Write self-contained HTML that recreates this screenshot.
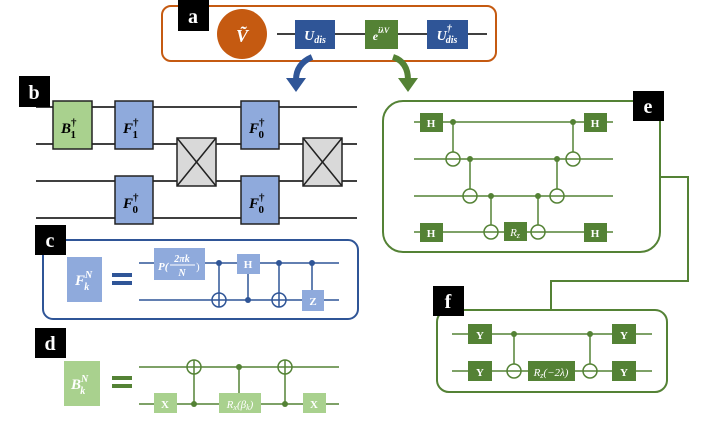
<!DOCTYPE html><html><head><style>body{margin:0;background:#fff}svg{display:block}</style></head><body>
<svg width="706" height="424" xmlns="http://www.w3.org/2000/svg" font-family="Liberation Serif, serif">
<!-- a -->
<rect x="162" y="6" width="334" height="55" rx="9" fill="none" stroke="#c55a11" stroke-width="2"/>
<rect x="178" y="0" width="31" height="31" fill="#000"/><text x="193" y="23" fill="#fff" font-size="20" font-weight="bold" text-anchor="middle">a</text>
<circle cx="242" cy="34" r="25" fill="#c55a11"/><text x="242" y="42" fill="#fff" font-size="18" font-weight="bold" font-style="italic" text-anchor="middle">Ṽ</text>
<g stroke="#000" stroke-width="1.5"><line x1="277" y1="34" x2="295" y2="34"/><line x1="335" y1="34" x2="365" y2="34"/><line x1="398" y1="34" x2="427" y2="34"/><line x1="468" y1="34" x2="487" y2="34"/></g>
<rect x="295" y="20" width="40" height="29" fill="#2f5597"/><text x="315" y="40" fill="#fff" font-size="14" font-weight="bold" font-style="italic" text-anchor="middle">U<tspan font-size="10" dy="3">dis</tspan></text>
<rect x="365" y="20" width="33" height="29" fill="#548235"/><text x="381" y="40" fill="#fff" font-size="12" font-weight="bold" font-style="italic" text-anchor="middle">e<tspan font-size="8" dy="-7">iλV</tspan></text>
<rect x="427" y="20" width="41" height="29" fill="#2f5597"/><text x="447" y="40" fill="#fff" font-size="14" font-weight="bold" font-style="italic" text-anchor="middle">U<tspan font-size="10" dy="-8">†</tspan><tspan font-size="10" dx="-6" dy="11">dis</tspan></text>
<!-- arrows -->
<path d="M312 57 Q296 64 296 80" fill="none" stroke="#2f5597" stroke-width="6"/><polygon points="286,78 306,78 296,92" fill="#2f5597"/>
<path d="M393 57 Q408 62 408 80" fill="none" stroke="#548235" stroke-width="6"/><polygon points="398,78 418,78 408,92" fill="#548235"/>
<!-- b -->
<rect x="19" y="76" width="31" height="31" fill="#000"/><text x="34" y="99" fill="#fff" font-size="20" font-weight="bold" text-anchor="middle">b</text>
<g stroke="#000" stroke-width="1.5"><line x1="36" y1="107" x2="357" y2="107"/><line x1="36" y1="144" x2="357" y2="144"/><line x1="36" y1="181" x2="357" y2="181"/><line x1="36" y1="218" x2="357" y2="218"/></g>
<g stroke="#222" stroke-width="1.5" font-size="15" font-weight="bold" font-style="italic" text-anchor="middle">
<rect x="53" y="101" width="39" height="48" fill="#a9d18e"/>
<rect x="115" y="101" width="38" height="48" fill="#8faadc"/>
<rect x="115" y="176" width="38" height="48" fill="#8faadc"/>
<rect x="241" y="101" width="38" height="48" fill="#8faadc"/>
<rect x="241" y="176" width="38" height="48" fill="#8faadc"/>
<rect x="177" y="138" width="39" height="48" fill="#d9d9d9"/><line x1="177" y1="138" x2="216" y2="186"/><line x1="216" y1="138" x2="177" y2="186"/>
<rect x="303" y="138" width="39" height="48" fill="#d9d9d9"/><line x1="303" y1="138" x2="342" y2="186"/><line x1="342" y1="138" x2="303" y2="186"/>
</g>
<g font-size="15" font-weight="bold" font-style="italic" fill="#000">
<text x="61" y="133">B<tspan font-size="11" font-style="normal" dy="-7">†</tspan><tspan font-size="11" font-style="normal" dx="-6" dy="12">1</tspan></text>
<text x="123" y="133">F<tspan font-size="11" font-style="normal" dy="-7">†</tspan><tspan font-size="11" font-style="normal" dx="-6" dy="12">1</tspan></text>
<text x="123" y="208">F<tspan font-size="11" font-style="normal" dy="-7">†</tspan><tspan font-size="11" font-style="normal" dx="-6" dy="12">0</tspan></text>
<text x="249" y="133">F<tspan font-size="11" font-style="normal" dy="-7">†</tspan><tspan font-size="11" font-style="normal" dx="-6" dy="12">0</tspan></text>
<text x="249" y="208">F<tspan font-size="11" font-style="normal" dy="-7">†</tspan><tspan font-size="11" font-style="normal" dx="-6" dy="12">0</tspan></text>
</g>
<!-- c -->
<rect x="43" y="240" width="315" height="79" rx="10" fill="none" stroke="#2f5597" stroke-width="2"/>
<rect x="35" y="225" width="31" height="30" fill="#000"/><text x="50" y="247" fill="#fff" font-size="20" font-weight="bold" text-anchor="middle">c</text>
<rect x="67" y="257" width="35" height="45" fill="#8faadc"/><text x="75" y="285" fill="#fff" font-size="15" font-weight="bold" font-style="italic">F<tspan font-size="10" dy="-7">N</tspan><tspan font-size="10" dx="-8" dy="12">k</tspan></text>
<rect x="112" y="273" width="20" height="4" fill="#2f5597"/><rect x="112" y="281" width="20" height="4" fill="#2f5597"/>
<g stroke="#2f5597" stroke-width="1.5" fill="none"><line x1="139" y1="263" x2="339" y2="263"/><line x1="139" y1="300" x2="339" y2="300"/>
<line x1="219" y1="263" x2="219" y2="307"/><circle cx="219" cy="300" r="7" fill="#fff"/><line x1="212" y1="300" x2="226" y2="300"/><line x1="219" y1="293" x2="219" y2="307"/>
<line x1="248" y1="274" x2="248" y2="300"/>
<line x1="279" y1="263" x2="279" y2="307"/><circle cx="279" cy="300" r="7" fill="#fff"/><line x1="272" y1="300" x2="286" y2="300"/><line x1="279" y1="293" x2="279" y2="307"/>
<line x1="312" y1="263" x2="312" y2="290"/></g>
<g fill="#2f5597"><circle cx="219" cy="263" r="3"/><circle cx="248" cy="300" r="3"/><circle cx="279" cy="263" r="3"/><circle cx="312" cy="263" r="3"/></g>
<rect x="154" y="248" width="51" height="32" fill="#8faadc"/><text x="158" y="270" fill="#fff" font-size="11" font-style="italic" font-weight="bold">P(</text><text x="182" y="262" fill="#fff" font-size="10" font-style="italic" font-weight="bold" text-anchor="middle">2πk</text><line x1="170" y1="265" x2="195" y2="265" stroke="#fff"/><text x="182" y="276" fill="#fff" font-size="10" font-style="italic" font-weight="bold" text-anchor="middle">N</text><text x="196" y="270" fill="#fff" font-size="11">)</text>
<rect x="237" y="254" width="23" height="20" fill="#8faadc"/><text x="248" y="268" fill="#fff" font-size="11" font-weight="bold" text-anchor="middle">H</text>
<rect x="302" y="290" width="22" height="21" fill="#8faadc"/><text x="313" y="305" fill="#fff" font-size="11" font-weight="bold" text-anchor="middle">Z</text>
<!-- d -->
<rect x="35" y="328" width="31" height="30" fill="#000"/><text x="50" y="350" fill="#fff" font-size="20" font-weight="bold" text-anchor="middle">d</text>
<rect x="64" y="361" width="36" height="45" fill="#a9d18e"/><text x="71" y="389" fill="#fff" font-size="15" font-weight="bold" font-style="italic">B<tspan font-size="10" dy="-7">N</tspan><tspan font-size="10" dx="-8" dy="12">k</tspan></text>
<rect x="112" y="376" width="20" height="4" fill="#548235"/><rect x="112" y="384" width="20" height="4" fill="#548235"/>
<g stroke="#548235" stroke-width="1.5" fill="none"><line x1="139" y1="367" x2="339" y2="367"/><line x1="139" y1="404" x2="339" y2="404"/>
<line x1="194" y1="360" x2="194" y2="404"/><circle cx="194" cy="367" r="7" fill="#fff"/><line x1="187" y1="367" x2="201" y2="367"/><line x1="194" y1="360" x2="194" y2="374"/>
<line x1="239" y1="367" x2="239" y2="393"/>
<line x1="285" y1="360" x2="285" y2="404"/><circle cx="285" cy="367" r="7" fill="#fff"/><line x1="278" y1="367" x2="292" y2="367"/><line x1="285" y1="360" x2="285" y2="374"/></g>
<g fill="#548235"><circle cx="194" cy="404" r="3"/><circle cx="239" cy="367" r="3"/><circle cx="285" cy="404" r="3"/></g>
<rect x="154" y="393" width="23" height="20" fill="#a9d18e"/><text x="165" y="408" fill="#fff" font-size="11" font-weight="bold" text-anchor="middle">X</text>
<rect x="219" y="393" width="42" height="20" fill="#a9d18e"/><text x="240" y="408" fill="#fff" font-size="11" font-style="italic" text-anchor="middle">R<tspan font-size="8" dy="2">x</tspan><tspan dy="-2">(β</tspan><tspan font-size="8" dy="2">k</tspan><tspan dy="-2">)</tspan></text>
<rect x="303" y="393" width="23" height="20" fill="#a9d18e"/><text x="314" y="408" fill="#fff" font-size="11" font-weight="bold" text-anchor="middle">X</text>
<!-- e -->
<rect x="383" y="101" width="277" height="151" rx="20" fill="none" stroke="#548235" stroke-width="2"/>
<polyline points="661,177 688,177 688,281 551,281 551,310" fill="none" stroke="#548235" stroke-width="2"/>
<rect x="633" y="91" width="31" height="30" fill="#000"/><text x="648" y="113" fill="#fff" font-size="20" font-weight="bold" text-anchor="middle">e</text>
<g stroke="#548235" stroke-width="1.5" fill="none">
<line x1="414" y1="122" x2="613" y2="122"/><line x1="414" y1="159" x2="613" y2="159"/><line x1="414" y1="196" x2="613" y2="196"/><line x1="414" y1="232" x2="613" y2="232"/>
<line x1="453" y1="122" x2="453" y2="166"/><circle cx="453" cy="159" r="7" fill="#fff"/><line x1="446" y1="159" x2="460" y2="159"/>
<line x1="470" y1="159" x2="470" y2="203"/><circle cx="470" cy="196" r="7" fill="#fff"/><line x1="463" y1="196" x2="477" y2="196"/>
<line x1="491" y1="196" x2="491" y2="239"/><circle cx="491" cy="232" r="7" fill="#fff"/><line x1="484" y1="232" x2="498" y2="232"/>
<line x1="538" y1="196" x2="538" y2="239"/><circle cx="538" cy="232" r="7" fill="#fff"/><line x1="531" y1="232" x2="545" y2="232"/>
<line x1="557" y1="159" x2="557" y2="203"/><circle cx="557" cy="196" r="7" fill="#fff"/><line x1="550" y1="196" x2="564" y2="196"/>
<line x1="573" y1="122" x2="573" y2="166"/><circle cx="573" cy="159" r="7" fill="#fff"/><line x1="566" y1="159" x2="580" y2="159"/>
</g>
<g fill="#548235"><circle cx="453" cy="122" r="3"/><circle cx="470" cy="159" r="3"/><circle cx="491" cy="196" r="3"/><circle cx="538" cy="196" r="3"/><circle cx="557" cy="159" r="3"/><circle cx="573" cy="122" r="3"/>
<rect x="420" y="113" width="23" height="19"/><rect x="584" y="113" width="23" height="19"/><rect x="420" y="223" width="23" height="19"/><rect x="584" y="223" width="23" height="19"/><rect x="504" y="222" width="23" height="19"/></g>
<g fill="#fff" font-size="11" font-weight="bold" text-anchor="middle"><text x="431" y="127">H</text><text x="595" y="127">H</text><text x="431" y="237">H</text><text x="595" y="237">H</text></g>
<text x="515" y="236" fill="#fff" font-size="11" font-style="italic" text-anchor="middle">R<tspan font-size="8" dy="2">z</tspan></text>
<!-- f -->
<rect x="437" y="310" width="230" height="82" rx="12" fill="none" stroke="#548235" stroke-width="2"/>
<rect x="433" y="286" width="31" height="30" fill="#000"/><text x="448" y="308" fill="#fff" font-size="20" font-weight="bold" text-anchor="middle">f</text>
<g stroke="#548235" stroke-width="1.5" fill="none"><line x1="452" y1="334" x2="652" y2="334"/><line x1="452" y1="371" x2="652" y2="371"/>
<line x1="514" y1="334" x2="514" y2="378"/><circle cx="514" cy="371" r="7" fill="#fff"/><line x1="507" y1="371" x2="521" y2="371"/>
<line x1="590" y1="334" x2="590" y2="378"/><circle cx="590" cy="371" r="7" fill="#fff"/><line x1="583" y1="371" x2="597" y2="371"/></g>
<g fill="#548235"><circle cx="514" cy="334" r="3"/><circle cx="590" cy="334" r="3"/>
<rect x="468" y="324" width="24" height="20"/><rect x="468" y="361" width="24" height="20"/><rect x="612" y="324" width="24" height="20"/><rect x="612" y="361" width="24" height="20"/><rect x="528" y="361" width="47" height="20"/></g>
<g fill="#fff" font-size="11" font-weight="bold" text-anchor="middle"><text x="480" y="339">Y</text><text x="480" y="376">Y</text><text x="624" y="339">Y</text><text x="624" y="376">Y</text></g>
<text x="551" y="376" fill="#fff" font-size="11" font-style="italic" text-anchor="middle">R<tspan font-size="8" dy="2">z</tspan><tspan dy="-2">(−2λ)</tspan></text>
</svg></body></html>
